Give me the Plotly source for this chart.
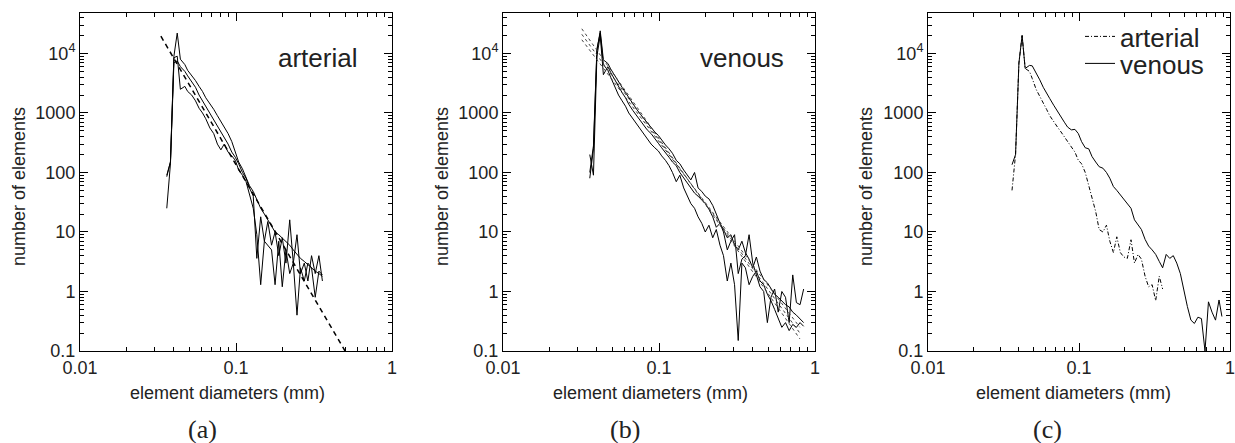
import plotly.graph_objects as go

# ---------------- data ----------------
x_a = [0.036, 0.038, 0.040, 0.042, 0.044, 0.047, 0.049, 0.052, 0.055, 0.058,
       0.061, 0.064, 0.068, 0.072, 0.076, 0.080, 0.084, 0.089, 0.094, 0.099,
       0.104, 0.110, 0.116, 0.122, 0.129, 0.136, 0.144, 0.152, 0.160, 0.169,
       0.178, 0.188, 0.198, 0.209, 0.221, 0.233, 0.246, 0.259, 0.274, 0.289,
       0.305, 0.322, 0.340, 0.358]

art_1 = [90, 150, 9000, 22000, 8000, 6500, 5200, 4300, 3500, 2800,
         2300, 1800, 1450, 1150, 900, 720, 560, 450, 330, 210,
         150, 115, 85, 60, 48, 35, 25, 20, 16, 12,
         10, 9, 8, 7, 6, 5, 4.2, 3.6, 3.2, 2.8,
         2.5, 2.2, 2.0, 1.8]
art_2 = [25, 140, 7000, 7500, 6000, 5000, 4200, 3300, 2700, 2000,
         1600, 1250, 950, 750, 600, 470, 380, 300, 220, 180,
         140, 100, 80, 55, 40, 3.6, 18, 7, 15, 6,
         10, 4, 8, 3, 16, 3, 9, 2, 3, 1.5,
         4, 2, 4, 1.5]
art_3 = [85, 150, 8500, 9000, 2500, 2800, 2300, 2000, 1600, 1200,
         1000, 800, 560, 450, 300, 240, 300, 220, 190, 160,
         110, 90, 70, 45, 25, 9, 1.3, 7, 6, 5,
         1.3, 7, 1.2, 5, 2, 3, 0.4, 2.5, 1.5, 3,
         2.5, 0.8, 2.2, 1.9]
fit_a_x = [0.033, 0.50]
fit_a_y = [19500, 0.1]

x_b = x_a + [0.378, 0.399, 0.421, 0.444, 0.469, 0.495, 0.522, 0.551, 0.581, 0.613,
             0.647, 0.683, 0.720, 0.760, 0.802, 0.846]

ven_1 = [80, 250, 11000, 24000, 7800, 6800, 5500, 4200, 3300, 2700,
         2200, 1800, 1450, 1150, 950, 800, 680, 560, 480, 420,
         350, 290, 250, 210, 160, 140, 110, 90, 75, 100,
         55, 48, 40, 36, 28, 20, 14, 11, 8, 9,
         6, 5, 7, 4.5, 3.5, 2.5, 3.8, 2.2, 1.6, 1.4,
         1.1, 0.9, 0.8, 0.7, 0.6, 0.55, 0.45, 0.4, 0.35, 0.3]
ven_2 = [200, 90, 9000, 20000, 4400, 6000, 4800, 3600, 2800, 2200,
         1800, 1400, 1100, 900, 750, 620, 520, 450, 380, 310,
         260, 220, 180, 150, 130, 100, 80, 65, 55, 45,
         40, 35, 30, 24, 18, 12, 14, 10, 5, 7,
         9, 2, 3.5, 4, 9, 3, 1.8, 1.2, 1.0, 0.3,
         0.8, 1.1, 0.45, 1.0, 0.8, 0.3, 1.9, 0.65, 0.6, 1.1]
ven_3 = [100, 280, 12000, 22000, 6500, 5200, 4000, 2800, 2000, 1600,
         1300, 1000, 800, 650, 520, 430, 360, 300, 260, 230,
         190, 160, 130, 100, 70, 90, 55, 40, 30, 25,
         18, 14, 10, 13, 8, 11, 6, 4, 1.5, 3,
         1.3, 0.15, 3, 2.5, 1.3, 1.8, 2.2, 1.5, 1.3, 0.9,
         0.7, 0.5, 0.35, 0.25, 0.3, 0.22, 0.28, 0.25, 0.3, 0.26]
fit_b_x = [0.032, 0.80]
fit_b1_y = [26000, 0.16]
fit_b2_y = [17000, 0.25]
fit_b3_y = [21000, 0.20]

x_c_ven = x_b + [0.884]
c_venous = [135, 200, 6900, 20000, 5600, 6300, 6200, 4800, 3600, 2700,
            2100, 1750, 1350, 1050, 850, 700, 580, 520, 530, 450,
            330, 260, 250, 185, 150, 125, 118, 100, 80, 58,
            50, 42, 36, 31, 25, 16, 13, 11, 7.5, 5.8,
            5.0, 4.2, 3.2, 2.5, 4.2, 3.6, 4.0, 3.0, 2.0, 1.0,
            0.56, 0.33, 0.29, 0.37, 0.35, 0.1, 0.67, 0.45, 0.33, 0.72, 0.38]
c_arterial = [50, 200, 6900, 20000, 5600, 5000, 3800, 2500, 1900, 1500,
              1150, 900, 700, 580, 480, 400, 330, 280, 220, 160,
              140, 100, 60, 40, 22, 11, 10, 13, 7, 4.5,
              8.3, 4.5, 3.8, 3.6, 7.4, 3.0, 4.2, 3.5, 1.8, 1.2,
              1.3, 0.7, 1.8, 1.1]

x_tickvals = [0.01, 0.1, 1]
x_ticktext = ["0.01", "0.1", "1"]
y_tickvals = [0.1, 1, 10, 100, 1000, 10000]
y_ticktext = ["0.1", "1", "10", "100", "1000", "10<sup>4</sup>"]

# ---------------- figure ----------------
W, H = 1235, 443
FONT = "Liberation Sans, Arial, Helvetica, sans-serif"
SERIF = "Liberation Serif, DejaVu Serif, serif"

fig = go.Figure()

def line(x, y, ax, dash="solid", width=1.0, color="black", name=None, legend=None):
    kw = dict(x=x, y=y, mode="lines", xaxis="x" + ax, yaxis="y" + ax,
              line=dict(color=color, width=width, dash=dash),
              name=name, showlegend=legend is not None, hoverinfo="skip")
    if legend is not None:
        kw["legend"] = legend
    fig.add_trace(go.Scatter(**kw))

# panel a
for s in (art_1, art_2, art_3):
    line(x_a, s, "")
line(fit_a_x, fit_a_y, "", dash="5px,4px", width=1.5)
# panel b
for s in (ven_1, ven_2, ven_3):
    line(x_b, s, "2")
for s in (fit_b1_y, fit_b2_y, fit_b3_y):
    line(fit_b_x, s, "2", dash="3px,3px", width=1.0, color="#444")
# panel c
line(x_a, c_arterial, "3", dash="4px,2px,1px,2px", width=1.0, name="arterial", legend="legend")
line(x_c_ven, c_venous, "3", width=1.0, name="venous", legend="legend2")

minor_x = [m * 10 ** e for e in (-2, -1) for m in range(2, 10)]
minor_y = [m * 10 ** e for e in (-1, 0, 1, 2, 3, 4) for m in range(2, 10)]

def xaxis(dom, anchor):
    return dict(type="log", domain=dom, range=[-2, 0], anchor=anchor, automargin=False,
                showline=True, linecolor="black", ticklabeloverflow="allow",
                linewidth=1, mirror="allticks", ticks="inside", ticklen=8, tickwidth=1,
                tickcolor="black", showgrid=False, zeroline=False,
                tickvals=x_tickvals, ticktext=x_ticktext,
                tickfont=dict(family=FONT, size=18, color="#222"),
                minor=dict(ticks="inside", ticklen=4, tickcolor="black", tickvals=minor_x,
                           showgrid=False))

def yaxis(anchor):
    return dict(type="log", domain=[1 - 351 / H, 1 - 13 / H], range=[-1, 4.68], anchor=anchor,
                automargin=False,
                showline=True, linecolor="black", linewidth=1, mirror="allticks",
                ticks="inside", ticklen=8, tickwidth=1, tickcolor="black", showgrid=False,
                zeroline=False, tickvals=y_tickvals, ticktext=y_ticktext,
                tickfont=dict(family=FONT, size=18, color="#222"),
                minor=dict(ticks="inside", ticklen=4, tickcolor="black", tickvals=minor_y,
                           showgrid=False))

ann = []
def text(t, px, py, size=18, angle=0, family=FONT, xanchor="center"):
    ann.append(dict(text=t, x=px / W, y=1 - py / H, xref="paper", yref="paper",
                    showarrow=False, textangle=angle, xanchor=xanchor, yanchor="middle",
                    font=dict(family=family, size=size, color="#222")))

for cx, ycx, sx, lab in ((227, 19, 202, "(a)"), (650, 442, 625, "(b)"), (1073, 866, 1047, "(c)")):
    text("element diameters (mm)", cx, 393)
    text("number of elements", ycx, 187, angle=-90)
    text(lab, sx, 429, size=26, family=SERIF)
text("arterial", 317, 58, size=26)
text("venous", 742, 58, size=26)

leg = dict(xanchor="left", yanchor="top", font=dict(family=FONT, size=26, color="#222"),
           bgcolor="rgba(0,0,0,0)", itemwidth=30)

fig.update_layout(
    template="plotly",
    width=W, height=H, margin=dict(l=0, r=0, t=0, b=0, autoexpand=False),
    paper_bgcolor="white", plot_bgcolor="white",
    xaxis=xaxis([80 / W, 392 / W], "y"),
    yaxis=yaxis("x"),
    xaxis2=xaxis([503 / W, 815 / W], "y2"),
    yaxis2=yaxis("x2"),
    xaxis3=xaxis([928 / W, 1230 / W], "y3"),
    yaxis3=yaxis("x3"),
    annotations=ann,
    legend=dict(leg, x=1080 / W, y=1 - 13 / H),
    legend2=dict(leg, x=1080 / W, y=1 - 40 / H),
    showlegend=True,
)

fig.write_html("out.html")
